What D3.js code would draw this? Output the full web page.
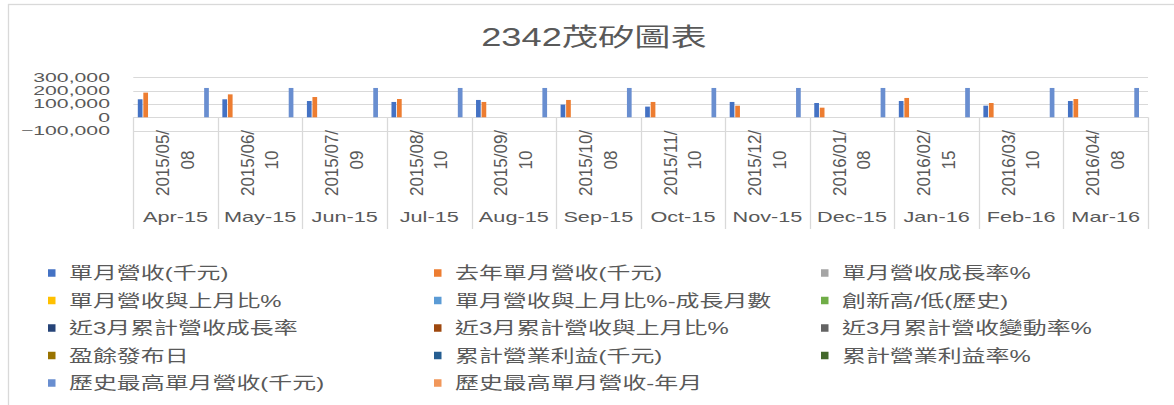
<!DOCTYPE html>
<html>
<head>
<meta charset="utf-8">
<script src="https://cdn.jsdelivr.net/npm/d3@7/dist/d3.min.js"></script>
<style>
  html, body { margin: 0; padding: 0; background: #fff; }
  svg { display: block; }
  text { font-family: "Liberation Sans", "Noto Sans CJK TC", sans-serif; fill: #595959; }
</style>
</head>
<body>
<svg id="chart" width="1174" height="405"></svg>
<script>
// ---------- data ----------
const title = "2342茂矽圖表";
const months = ["Apr-15","May-15","Jun-15","Jul-15","Aug-15","Sep-15","Oct-15","Nov-15","Dec-15","Jan-16","Feb-16","Mar-16"];
const releaseDates = ["2015/05/08","2015/06/10","2015/07/09","2015/08/10","2015/09/10","2015/10/08","2015/11/10","2015/12/10","2016/01/08","2016/02/15","2016/03/10","2016/04/08"];
const monthlyRevenue = [135000,135000,122000,115000,130000,95000,80000,115000,107000,122000,87000,122000];
const lastYearRevenue = [185000,172000,152000,137000,115000,130000,115000,87000,72000,145000,107000,137000];
const historicalMaxRevenue = [220000,220000,220000,220000,220000,220000,220000,220000,220000,220000,220000,220000];
const yTicks = [-100000, 0, 100000, 200000, 300000];
const seriesNames = [
  "單月營收(千元)","去年單月營收(千元)","單月營收成長率%",
  "單月營收與上月比%","單月營收與上月比%-成長月數","創新高/低(歷史)",
  "近3月累計營收成長率","近3月累計營收與上月比%","近3月累計營收變動率%",
  "盈餘發布日","累計營業利益(千元)","累計營業利益率%",
  "歷史最高單月營收(千元)","歷史最高單月營收-年月"
];
const seriesColors = ["#4472C4","#ED7D31","#A5A5A5","#FFC000","#5B9BD5","#70AD47","#264478","#9E480E","#636363","#997300","#255E91","#43682B","#698ED0","#F1975A"];
// values per series (the percentage / date series are invisible at this scale)
const seriesValues = {
  "單月營收(千元)": monthlyRevenue,
  "去年單月營收(千元)": lastYearRevenue,
  "歷史最高單月營收(千元)": historicalMaxRevenue
};

// ---------- layout ----------
const svg = d3.select("#chart");
const plot = { left: 133.3, right: 1148, top: 77.3, bottom: 130.6 };
const grid = "#d9d9d9";

function addText(parent, x, y, str, o) {
  const t = parent.append("text")
    .attr("transform", `translate(${x},${y}) scale(${o.sx||1},${o.sy||1}) rotate(${o.rot||0})`)
    .attr("font-size", o.size)
    .attr("text-anchor", o.anchor || "start")
    .text(str);
  if (o.baseline) t.attr("dominant-baseline", o.baseline);
  return t;
}

// frame
svg.append("rect").attr("x", 8.5).attr("y", 4.5).attr("width", 1200).attr("height", 500)
  .attr("fill", "none").attr("stroke", grid).attr("stroke-width", 1.3);

// title
addText(svg, 594, 45.5, title, { size: 25, anchor: "middle", sx: 1.45 });

// scales
const x0 = d3.scaleBand().domain(months).range([plot.left, plot.right]).padding(0);
const x1 = d3.scaleBand().domain(seriesNames).range([4.5, 4.5 + 14 * 5.47]).paddingInner(0.15).paddingOuter(0);
const y = d3.scaleLinear().domain([-100000, 300000]).range([plot.bottom, plot.top]);

// gridlines
svg.append("g").selectAll("line").data(yTicks).join("line")
  .attr("x1", plot.left).attr("x2", plot.right)
  .attr("y1", d => Math.round(y(d)) + 0.5).attr("y2", d => Math.round(y(d)) + 0.5)
  .attr("stroke", grid).attr("stroke-width", 1.2);

// y axis labels
const yAxisG = svg.append("g");
yTicks.forEach(v => {
  addText(yAxisG, 110, y(v), d3.format(",")(v), { size: 12.5, anchor: "end", sx: 1.7, baseline: "central" });
});

// bars
const barsG = svg.append("g");
seriesNames.forEach((name, si) => {
  const vals = seriesValues[name];
  if (!vals) return;
  barsG.append("g").attr("fill", seriesColors[si])
    .selectAll("rect").data(vals).join("rect")
    .attr("x", (d, i) => x0(months[i]) + x1(name))
    .attr("width", x1.bandwidth())
    .attr("y", d => y(Math.max(0, d)))
    .attr("height", d => Math.abs(y(d) - y(0)));
});

// category table (multi-level axis)
const tableBottom = 229;
const bounds = months.map(m => x0(m)).concat([plot.right]);
svg.append("g").selectAll("line").data(bounds).join("line")
  .attr("x1", d => Math.round(d) + 0.5).attr("x2", d => Math.round(d) + 0.5)
  .attr("y1", y(0)).attr("y2", tableBottom)
  .attr("stroke", grid).attr("stroke-width", 1.3);

const catG = svg.append("g");
months.forEach((m, i) => {
  const cx = x0(m) + x0.bandwidth() / 2;
  const parts = releaseDates[i].split("/");
  const line1 = parts[0] + "/" + parts[1] + "/";
  const line2 = parts[2];
  const t = catG.append("text")
    .attr("transform", `translate(${cx},163) scale(1.07,1) rotate(-90)`)
    .attr("font-size", 17)
    .attr("text-anchor", "middle");
  t.append("tspan").attr("x", 0).attr("y", -6).text(line1);
  t.append("tspan").attr("x", 3).attr("y", 17).text(line2);
  addText(catG, cx, 222, m, { size: 14, anchor: "middle", sx: 1.55 });
});

// legend
const legendG = svg.append("g");
const colX = [48, 434, 821];
const rowY = [273, 300.5, 328, 355.5, 383];
seriesNames.forEach((name, i) => {
  const c = i % 3, r = Math.floor(i / 3);
  const g = legendG.append("g");
  g.append("rect").attr("x", colX[c]).attr("y", rowY[r] - 3.75).attr("width", 7.5).attr("height", 7.5)
    .attr("fill", seriesColors[i]);
  addText(g, colX[c] + 21, rowY[r], name, { size: 16.5, anchor: "start", sx: 1.45, baseline: "central" });
});
</script>
</body>
</html>
